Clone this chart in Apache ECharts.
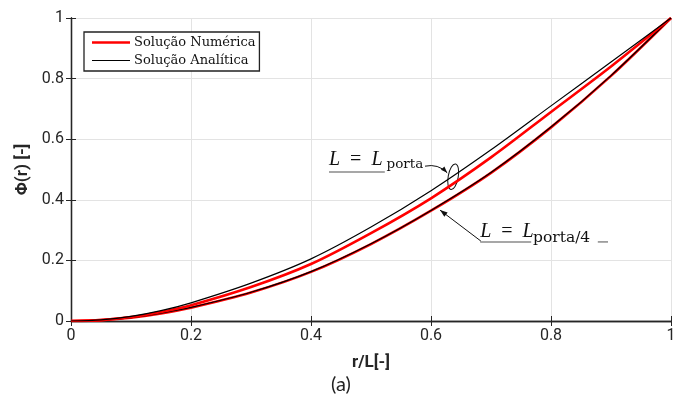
<!DOCTYPE html>
<html>
<head>
<meta charset="utf-8">
<script src="https://cdn.jsdelivr.net/npm/echarts@6/dist/echarts.min.js"></script>
<style>
  html, body { margin: 0; padding: 0; background: #fff; }
  #chart { width: 686px; height: 403px; }
</style>
</head>
<body>
<div id="chart"></div>
<script>
// r/L positions where the curves were read
const rL = [0, 0.05, 0.1, 0.15, 0.2, 0.3, 0.4, 0.5, 0.6, 0.7, 0.8, 0.9, 1];
// L = Lporta
const numPorta = [0, 0.003, 0.013, 0.03, 0.052, 0.112, 0.188, 0.29, 0.405, 0.54, 0.69, 0.84, 1];
const anaPorta = [0, 0.004, 0.015, 0.034, 0.06, 0.125, 0.205, 0.31, 0.43, 0.565, 0.71, 0.855, 1];
// L = Lporta/4
const numPorta4 = [0, 0.003, 0.011, 0.025, 0.044, 0.094, 0.162, 0.254, 0.364, 0.489, 0.639, 0.809, 1];
const anaPorta4 = [0, 0.003, 0.011, 0.026, 0.045, 0.095, 0.163, 0.255, 0.365, 0.49, 0.64, 0.81, 1];
const legendNames = ['Solução Numérica', 'Solução Analítica'];

const pairs = (ys) => rL.map((x, i) => [x, ys[i]]);

const chart = echarts.init(document.getElementById('chart'));

const axisCol = '#262626';
const tickFont = { fontFamily: 'Roboto', fontSize: 16, color: axisCol };

function lineSeries(name, ys, color, width) {
  return {
    name: name,
    type: 'line',
    data: pairs(ys),
    smooth: 0.3,
    symbol: 'none',
    lineStyle: { color: color, width: width },
    itemStyle: { color: color },
    emphasis: { disabled: true }
  };
}

const option = {
  animation: false,
  backgroundColor: '#fff',
  grid: { left: 71, right: 15, top: 18, bottom: 82 },
  legend: {
    left: 84, top: 32,
    orient: 'vertical',
    data: [
      { name: legendNames[0], icon: 'path://M0,0H38V2.6H0Z', itemStyle: { color: '#ff0000' } },
      { name: legendNames[1], icon: 'path://M0,0H38V1.2H0Z', itemStyle: { color: '#000' } }
    ],
    backgroundColor: '#fff',
    borderColor: '#222', borderWidth: 1.3,
    padding: [4, 4, 4, 8],
    itemWidth: 38, itemHeight: 14, itemGap: 5,
    textStyle: { fontFamily: 'DejaVu Serif', fontSize: 13, color: '#111', padding: [0, 0, 0, -1] }
  },
  xAxis: [{
    type: 'value', min: 0, max: 1, interval: 0.2,
    name: 'r/L[-]', nameLocation: 'middle', nameGap: 33,
    nameTextStyle: { fontFamily: 'Roboto', fontSize: 17, fontWeight: 'bold', color: axisCol },
    axisLine: { lineStyle: { color: axisCol, width: 1.3 } },
    axisTick: { inside: true, length: 5, lineStyle: { color: axisCol } },
    axisLabel: Object.assign({ margin: 7, formatter: v => String(v) }, tickFont),
    splitLine: { show: true, lineStyle: { color: '#e3e3e3', width: 1 } }
  }, {
    type: 'value', min: 0, max: 1, interval: 0.2, position: 'top',
    axisLine: { show: true, lineStyle: { color: axisCol, width: 1.3 } },
    axisTick: { show: true, inside: true, length: 5, lineStyle: { color: axisCol } },
    axisLabel: { show: false }, splitLine: { show: false }
  }],
  yAxis: [{
    type: 'value', min: 0, max: 1, interval: 0.2,
    name: 'Φ(r) [-]', nameLocation: 'middle', nameGap: 36,
    nameTextStyle: { fontFamily: 'Roboto', fontSize: 17, fontWeight: 'bold', color: axisCol },
    axisLine: { show: true, lineStyle: { color: axisCol, width: 1.3 } },
    axisTick: { show: true, inside: true, length: 5, lineStyle: { color: axisCol } },
    axisLabel: Object.assign({ margin: 7, formatter: v => String(v) }, tickFont),
    splitLine: { show: true, lineStyle: { color: '#e3e3e3', width: 1 } }
  }, {
    type: 'value', min: 0, max: 1, interval: 0.2, position: 'right',
    axisLine: { show: true, lineStyle: { color: axisCol, width: 1.3 } },
    axisTick: { show: true, inside: true, length: 5, lineStyle: { color: axisCol } },
    axisLabel: { show: false }, splitLine: { show: false }
  }],
  series: [
    lineSeries(legendNames[0], numPorta4, '#ff0000', 2.6),
    lineSeries(legendNames[1], anaPorta4, '#000000', 1.2),
    lineSeries(legendNames[0], numPorta, '#ff0000', 2.6),
    lineSeries(legendNames[1], anaPorta, '#000000', 1.2)
  ]
};

chart.setOption(option);

// annotations, placed in data units
const p = (x, y) => chart.convertToPixel({ xAxisIndex: 0, yAxisIndex: 0 }, [x, y]);
const serif = 'Liberation Serif';
const gray = '#8a8a8a';

function arrowHead(tip, from, size) {
  const a = Math.atan2(tip[1] - from[1], tip[0] - from[0]);
  const l = [tip[0] - size * Math.cos(a - 0.35), tip[1] - size * Math.sin(a - 0.35)];
  const r = [tip[0] - size * Math.cos(a + 0.35), tip[1] - size * Math.sin(a + 0.35)];
  return { type: 'polygon', shape: { points: [tip, l, r] }, style: { fill: '#111' } };
}

// "L = L" in math style
function eqLabel(pos) {
  return {
    type: 'text', x: pos[0], y: pos[1],
    style: {
      text: '{i|L}{n|=}{i|L}', verticalAlign: 'middle',
      rich: {
        i: { fontFamily: serif, fontStyle: 'italic', fontSize: 20, fill: '#111' },
        n: { fontFamily: serif, fontSize: 20, fill: '#111', padding: [0, 10, 0, 10] }
      }
    }
  };
}

function subLabel(pos, text, size) {
  return { type: 'text', x: pos[0], y: pos[1],
    style: { text: text, fontFamily: 'DejaVu Serif', fontSize: size, fill: '#111', verticalAlign: 'middle' } };
}

function hline(a, b, color) {
  return { type: 'line', shape: { x1: a[0], y1: a[1], x2: b[0], y2: b[1] }, style: { stroke: color, lineWidth: 1.5 } };
}

const g = [];
// --- L = Lporta
g.push(eqLabel(p(0.43, 0.533)));
g.push(subLabel(p(0.526, 0.518), 'porta', 13.5));
g.push(hline(p(0.43, 0.492), p(0.523, 0.492), gray));
{
  const c0 = p(0.59, 0.511), c1 = p(0.612, 0.52), c2 = p(0.627, 0.489);
  g.push({ type: 'bezierCurve', shape: { x1: c0[0], y1: c0[1], cpx1: c1[0], cpy1: c1[1], x2: c2[0], y2: c2[1] },
    style: { stroke: '#111', lineWidth: 1, fill: 'none' } });
  g.push(arrowHead(c2, c1, 7));
  const e = p(0.637, 0.476);
  g.push({ type: 'ellipse', x: e[0], y: e[1], rotation: -0.18, shape: { cx: 0, cy: 0, rx: 5, ry: 13 },
    style: { stroke: '#111', lineWidth: 1, fill: 'none' } });
}
// --- L = Lporta/4
g.push(eqLabel(p(0.682, 0.2955)));
g.push(subLabel(p(0.77, 0.273), 'porta/4', 15.5));
g.push(hline(p(0.682, 0.261), p(0.767, 0.261), gray));
g.push(hline(p(0.878, 0.261), p(0.895, 0.261), gray));
{
  const f = p(0.683, 0.264), t = p(0.615, 0.366);
  g.push({ type: 'line', shape: { x1: f[0], y1: f[1], x2: t[0], y2: t[1] }, style: { stroke: '#111', lineWidth: 1 } });
  g.push(arrowHead(t, f, 8));
}
// caption
g.push({ type: 'text', x: 341, y: 385,
  style: { text: '(a)', fontFamily: 'Lato', fontSize: 20, fill: '#222', align: 'center', verticalAlign: 'middle' } });

chart.setOption({ graphic: g });
</script>
</body>
</html>
